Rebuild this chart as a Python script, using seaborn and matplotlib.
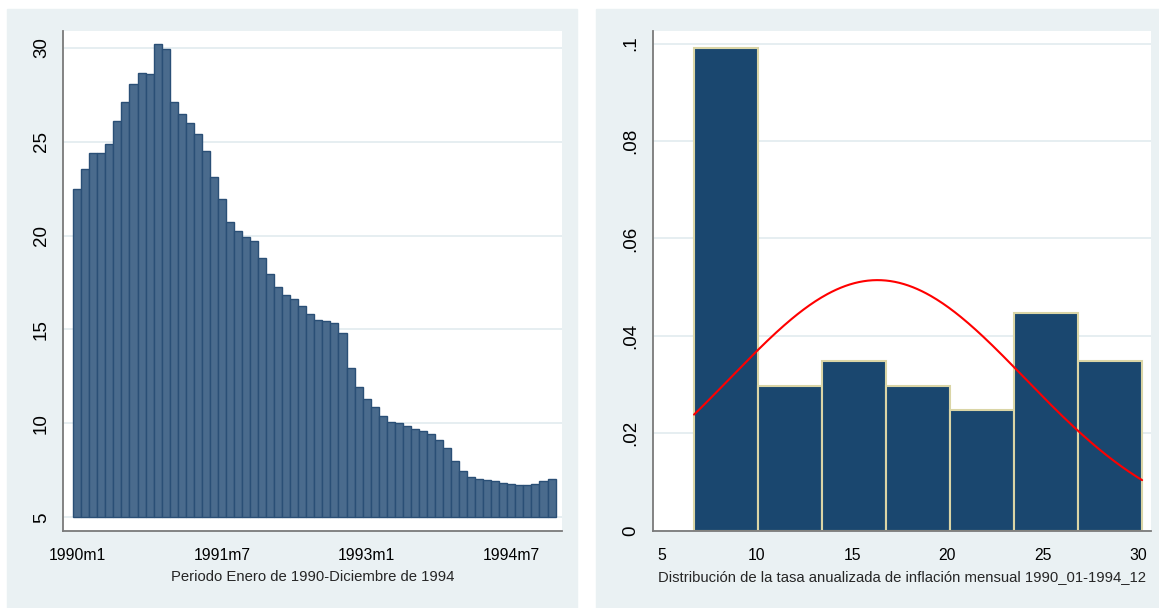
import numpy as np
import pandas as pd
import matplotlib
matplotlib.use("Agg")
import matplotlib.pyplot as plt
from matplotlib.patches import Rectangle
import seaborn as sns

# Annualized monthly inflation rate, Jan 1990 - Dec 1994 (percent)
inflation_1990 = [22.48, 23.57, 24.40, 24.42, 24.88, 26.10, 27.13, 28.06, 28.66, 28.60, 30.22, 29.92]
inflation_1991 = [27.09, 26.45, 26.01, 25.43, 24.50, 23.10, 21.96, 20.74, 20.25, 19.90, 19.71, 18.80]
inflation_1992 = [17.93, 17.25, 16.82, 16.61, 16.24, 15.85, 15.53, 15.46, 15.32, 14.82, 12.95, 11.92]
inflation_1993 = [11.31, 10.88, 10.42, 10.08, 10.00, 9.85, 9.69, 9.61, 9.45, 9.13, 8.69, 8.02]
inflation_1994 = [7.48, 7.15, 7.06, 6.99, 6.92, 6.84, 6.80, 6.72, 6.70, 6.80, 6.92, 7.04]

years = [1990, 1991, 1992, 1993, 1994]
period_labels = [f"{y}m{m}" for y in years for m in range(1, 13)]
inflation = (inflation_1990 + inflation_1991 + inflation_1992
             + inflation_1993 + inflation_1994)

time_ticks = ["1990m1", "1991m7", "1993m1", "1994m7"]
left_yticks = [5, 10, 15, 20, 25, 30]
right_xticks = [5, 10, 15, 20, 25, 30]
right_yticks = [0, 0.02, 0.04, 0.06, 0.08, 0.1]
right_yticklabels = ["0", ".02", ".04", ".06", ".08", ".1"]
n_bins = 7
bar_base = 5

xlabel_left = "Periodo Enero de 1990-Diciembre de 1994"
xlabel_right = "Distribución de la tasa anualizada de inflación mensual 1990_01-1994_12"

df = pd.DataFrame({"periodo": period_labels, "tasa": inflation})

sns.set_theme(style="white")
plt.rcParams["font.family"] = ["Liberation Sans", "DejaVu Sans"]

W, H = 1159, 608
fig = plt.figure(figsize=(W / 100, H / 100), dpi=100, facecolor="white")

panel_bg = "#EAF1F3"
fig.patches.append(Rectangle((7 / W, 0), (577 - 7) / W, 1 - 9 / H,
                             transform=fig.transFigure, color=panel_bg, zorder=-5))
fig.patches.append(Rectangle((596 / W, 0), (W - 596) / W, 1 - 9 / H,
                             transform=fig.transFigure, color=panel_bg, zorder=-5))

bottom = 1 - 530.5 / H
height = (530.5 - 31) / H
ax1 = fig.add_axes([63.3 / W, bottom, (562 - 63.3) / W, height])
ax2 = fig.add_axes([652.7 / W, bottom, (1150.7 - 652.7) / W, height])

axis_grey = "#7A7A7A"
grid_col = "#E6EEF1"
xtick_fs = 11.3
ytick_fs = 13.5
title_fs = 10.7


def style_axes(ax):
    ax.set_facecolor("white")
    for side in ("top", "right"):
        ax.spines[side].set_visible(False)
    for side in ("left", "bottom"):
        ax.spines[side].set_color(axis_grey)
        ax.spines[side].set_linewidth(1.3)
    ax.tick_params(axis="both", direction="out", length=4.5, width=1.1,
                   color=axis_grey, labelcolor="black")
    ax.tick_params(axis="x", pad=8, labelsize=xtick_fs)
    ax.tick_params(axis="y", pad=5, labelsize=ytick_fs)
    ax.yaxis.grid(True, color=grid_col, linewidth=1.4)
    ax.xaxis.grid(False)
    ax.set_axisbelow(True)
    for lab in ax.get_yticklabels():
        lab.set_rotation(90)
        lab.set_va("center")


# Left: monthly series as bars rising from the 5% baseline
sns.barplot(data=df, x="periodo", y="tasa", ax=ax1, width=1.0,
            color="#4A6B8D", edgecolor="#2A4F76", linewidth=1.0,
            saturation=1.0, errorbar=None)
for p in ax1.patches:
    top = p.get_height()
    p.set_y(bar_base)
    p.set_height(top - bar_base)

ax1.set_xlim(-1.73, 60.3)
ax1.set_ylim(4.30, 30.89)
ax1.set_yticks(left_yticks)
ax1.set_yticklabels([str(v) for v in left_yticks])
ax1.set_xticks([period_labels.index(t) for t in time_ticks])
ax1.set_xticklabels(time_ticks)
ax1.set_xlabel(xlabel_left, fontsize=title_fs, labelpad=5)
ax1.set_ylabel("")
style_axes(ax1)

# Right: density histogram with fitted normal curve
vals = np.asarray(inflation)
sns.histplot(x=vals, bins=n_bins, stat="density", ax=ax2,
             color="#1A476F", edgecolor="#DAD5A6", linewidth=1.5, alpha=1.0)
mu, sd = vals.mean(), vals.std(ddof=1)
grid_x = np.linspace(vals.min(), vals.max(), 300)
pdf = np.exp(-0.5 * ((grid_x - mu) / sd) ** 2) / (sd * np.sqrt(2 * np.pi))
sns.lineplot(x=grid_x, y=pdf, ax=ax2, color="red", linewidth=1.5)

ax2.set_xlim(4.53, 30.67)
ax2.set_ylim(0, 0.1026)
ax2.set_xticks(right_xticks)
ax2.set_xticklabels([str(v) for v in right_xticks])
ax2.set_yticks(right_yticks)
ax2.set_yticklabels(right_yticklabels)
ax2.set_xlabel(xlabel_right, fontsize=title_fs, labelpad=5)
ax2.set_ylabel("")
style_axes(ax2)

fig.savefig("out.png", dpi=100, facecolor="white")
